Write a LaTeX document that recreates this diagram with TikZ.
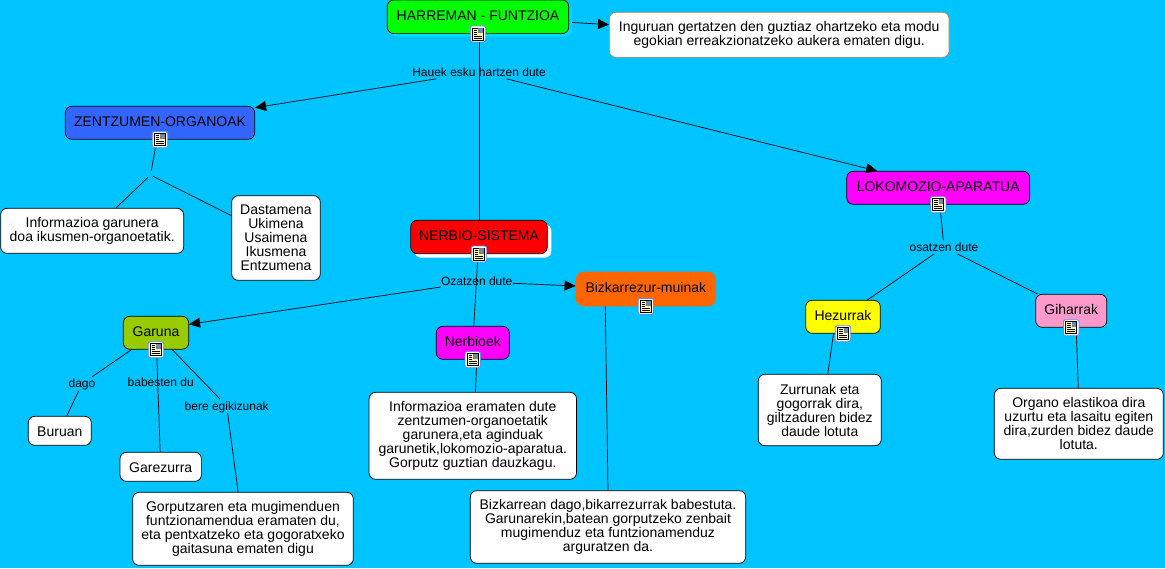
\documentclass[tikz,border=0pt]{standalone}
\usepackage{fontspec}
\setmainfont{Liberation Sans}
\usetikzlibrary{positioning,arrows.meta,shadows}
\definecolor{bgblue}{HTML}{00C4FF}
\definecolor{tanline}{HTML}{A08A60}
\definecolor{iconblue}{HTML}{5A8FEA}
\definecolor{iconpage}{HTML}{FFF8B8}
\definecolor{cgreen}{HTML}{00FF00}
\definecolor{cblue}{HTML}{3366FF}
\definecolor{cmagenta}{HTML}{FF00FF}
\definecolor{cred}{HTML}{FF0000}
\definecolor{corange}{HTML}{FF6600}
\definecolor{colive}{HTML}{99CC00}
\definecolor{cyellow}{HTML}{FFFF00}
\definecolor{cpink}{HTML}{FF99CC}
\definecolor{cshadow}{HTML}{00DCFF}
\newcommand{\notestart}{\lineskiplimit-10pt\relax\rule{0pt}{11.5pt}}
\tikzset{
	concept/.style={draw=black,line width=0.7pt,rounded corners=6.5pt,inner sep=0pt,
		font=\fontsize{14}{14}\selectfont,text height=10pt,text depth=3.6pt},
	note/.style={draw=black,fill=white,line width=0.7pt,rounded corners=6.5pt,inner sep=0pt,
		align=center,font=\fontsize{14}{14}\selectfont,
		execute at begin node=\notestart},
	linklabel/.style={inner sep=0pt,minimum height=13pt,font=\fontsize{12}{12}\selectfont,
		text height=10.6pt,text depth=2.4pt},
	noteicon/.pic={
		\draw[iconblue,fill=white,line width=0.8pt,rounded corners=2pt] (-7.7pt,-8pt) rectangle (7.7pt,8pt);
		\draw[black,fill=iconpage,line width=0.6pt] (-5.5pt,-6pt) rectangle (5.5pt,6pt);
		\fill[black!50] (0.5pt,0.5pt) rectangle (5.2pt,5.7pt);
		\fill[iconblue] (2pt,2pt) rectangle (4pt,4.5pt);
		\draw[black,line width=0.6pt]
			(-4pt,4pt) -- (-0.5pt,4pt) (-4pt,2pt) -- (-0.5pt,2pt) (-4pt,0pt) -- (-0.5pt,0pt)
			(-4pt,-2pt) -- (4pt,-2pt) (-4pt,-4pt) -- (4pt,-4pt);
	}
}
\begin{document}
\begin{tikzpicture}[on grid,>={Triangle[length=11pt,width=10pt]},line width=0.7pt]
	\path[fill=bgblue,use as bounding box] (-478pt,16.8pt) rectangle (687pt,-551.2pt);
	% upper part
	\node[concept,fill=cgreen,minimum width=181.4pt,minimum height=33.6pt,
		drop shadow={opacity=1,draw=none,fill=cshadow,shadow xshift=3pt,shadow yshift=-3pt}] (harreman) at (0,0) {HARREMAN - FUNTZIOA};
	\node[note,draw=tanline,minimum width=339.7pt,minimum height=45pt] (info) [below right=18pt and 301.2pt of harreman] {Inguruan gertatzen den guztiaz ohartzeko eta modu\\egokian erreakzionatzeko aukera ematen digu.};
	\node[linklabel,minimum width=134pt] (l_hauek) [below right=55.2pt and 1pt of harreman] {Hauek esku hartzen dute};
	\node[concept,fill=cblue,minimum width=189.4pt,minimum height=33pt] (zentzumen) [below left=50.8pt and 319pt of l_hauek] {ZENTZUMEN-ORGANOAK};
	\node[concept,fill=cmagenta,minimum width=183pt,minimum height=33pt] (lokomozio) [below right=115.8pt and 459.2pt of l_hauek] {LOKOMOZIO-APARATUA};
	\node[concept,fill=cred,minimum width=136.6pt,minimum height=33.4pt,
		drop shadow={opacity=1,draw=none,fill=white,shadow xshift=4pt,shadow yshift=-4pt}] (nerbio) [below=165pt of l_hauek] {NERBIO-SISTEMA};
	% left
	\node[linklabel,minimum width=4pt,minimum height=8pt,text height=0pt,text depth=0pt] (l_zentzumen) [below left=52.2pt and 9.5pt of zentzumen] {};
	\node[note,minimum width=183pt,minimum height=45pt] (garunera) [below left=55.8pt and 58.3pt of l_zentzumen] {Informazioa garunera\\doa ikusmen-organoetatik.};
	\node[note,minimum width=88.6pt,minimum height=84.6pt] (dastamena) [below right=63pt and 125.5pt of l_zentzumen] {Dastamena\\Ukimena\\Usaimena\\Ikusmena\\Entzumena};
	% middle
	\node[linklabel,minimum width=71.4pt] (l_ozatzen) [below left=44.7pt and 2.3pt of nerbio] {Ozatzen dute};
	\node[concept,draw=corange,fill=corange,minimum width=139.7pt,minimum height=34pt,rounded corners=8pt] (bizkarrezur) [below right=7.3pt and 169.1pt of l_ozatzen] {Bizkarrezur-muinak};
	\node[concept,fill=cmagenta,minimum width=73pt,minimum height=33pt] (nerbioek) [below left=61.1pt and 3.9pt of l_ozatzen] {Nerbioek};
	\node[concept,fill=colive,minimum width=65.4pt,minimum height=33pt] (garuna) [below left=51.1pt and 320.7pt of l_ozatzen] {Garuna};
	\node[note,minimum width=207.4pt,minimum height=87pt] (informazioa) [below=93pt of nerbioek] {Informazioa eramaten dute\\zentzumen-organoetatik\\garunera,eta aginduak\\garunetik,lokomozio-aparatua.\\Gorputz guztian dauzkagu.};
	\node[note,minimum width=275.4pt,minimum height=72.6pt] (bizkarrean) [below left=238pt and 37.8pt of bizkarrezur] {Bizkarrean dago,bikarrezurrak babestuta.\\Garunarekin,batean gorputzeko zenbait\\mugimenduz eta funtzionamenduz\\arguratzen da.};
	\node[linklabel,minimum width=26pt,minimum height=13.4pt] (l_dago) [below left=50.9pt and 74pt of garuna] {dago};
	\node[linklabel,minimum width=66pt] (l_babesten) [below right=49.9pt and 4.7pt of garuna] {babesten du};
	\node[linklabel,minimum width=83.4pt] (l_bere) [below right=73.2pt and 70.7pt of garuna] {bere egikizunak};
	\node[note,minimum width=63pt,minimum height=29pt] (buruan) [below left=47.1pt and 22.2pt of l_dago] {Buruan};
	\node[note,minimum width=81.4pt,minimum height=29pt] (garezurra) [below=84.1pt of l_babesten] {Garezurra};
	\node[note,minimum width=220.6pt,minimum height=73pt] (gorputz) [below right=122.8pt and 16.3pt of l_bere] {Gorputzaren eta mugimenduen\\funtzionamendua eramaten du,\\eta pentxatzeko eta gogoratxeko\\gaitasuna ematen digu};
	% right
	\node[linklabel,minimum width=68.4pt] (l_osatzen) [below right=59.4pt and 5.8pt of lokomozio] {osatzen dute};
	\node[concept,fill=cyellow,minimum width=74.6pt,minimum height=33pt] (hezurrak) [below left=69.6pt and 101pt of l_osatzen] {Hezurrak};
	\node[concept,fill=cpink,minimum width=71pt,minimum height=33pt] (giharrak) [below right=63.6pt and 127.2pt of l_osatzen] {Giharrak};
	\node[note,minimum width=123pt,minimum height=71.4pt] (zurrunak) [below left=93.2pt and 23.2pt of hezurrak] {Zurrunak eta\\gogorrak dira,\\giltzaduren bidez\\daude lotuta};
	\node[note,minimum width=169pt,minimum height=71pt] (organo) [below right=113pt and 7.6pt of giharrak] {Organo elastikoa dira\\uzurtu eta lasaitu egiten\\dira,zurden bidez daude\\lotuta.};
	\path
	 (harreman) edge [->,shorten <=3pt] (info)
	 ([xshift=1pt]harreman.south) edge (nerbio.north)
	 (l_hauek) edge [->] (zentzumen)
	           edge [->] ([xshift=-61pt]lokomozio.north)
	 (zentzumen) edge (l_zentzumen)
	 (l_zentzumen) edge (garunera)
	               edge (dastamena)
	 (nerbio) edge (nerbioek)
	 (l_ozatzen) edge [->] ([yshift=8.5pt]garuna.east)
	             edge [->] (bizkarrezur)
	 (garuna) edge (l_dago)
	          edge (garezurra)
	          edge (l_bere)
	 (l_dago) edge (buruan)
	 (l_bere) edge (gorputz)
	 ([xshift=4pt]nerbioek.south) edge ([xshift=2.7pt]informazioa.north)
	 ([xshift=-40.5pt]bizkarrezur.south) edge (bizkarrean.north)
	 (lokomozio) edge (l_osatzen)
	 (l_osatzen) edge (hezurrak)
	             edge (giharrak)
	 ([xshift=-9.5pt]hezurrak.south) edge ([xshift=8pt]zurrunak.north)
	 ([xshift=5pt]giharrak.south) edge ([xshift=-0.5pt]organo.north);
	\pic at (harreman.south) {noteicon};
	\pic at (zentzumen.south) {noteicon};
	\pic at (lokomozio.south) {noteicon};
	\pic at (nerbio.south) {noteicon};
	\pic at (bizkarrezur.south) {noteicon};
	\pic at (nerbioek.south) {noteicon};
	\pic at (garuna.south) {noteicon};
	\pic at (hezurrak.south) {noteicon};
	\pic at (giharrak.south) {noteicon};
\end{tikzpicture}
\end{document}
